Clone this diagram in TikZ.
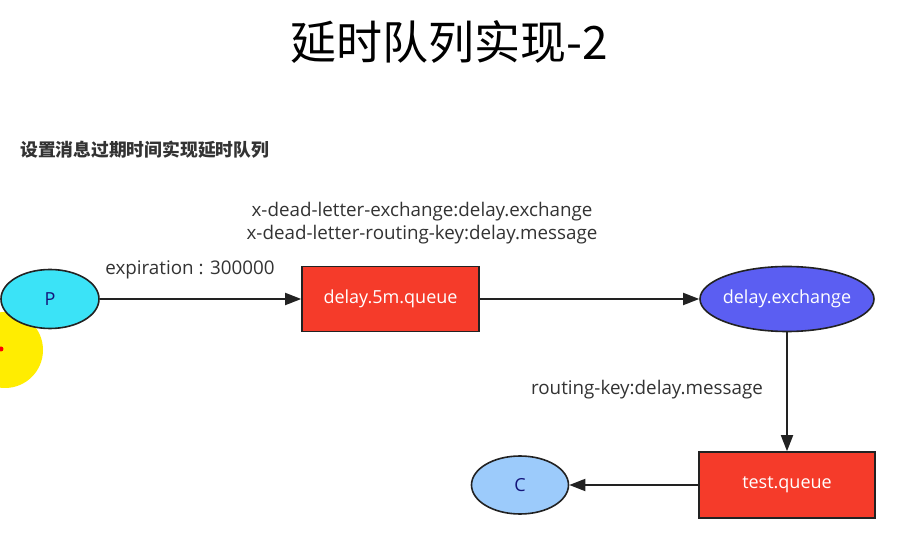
\documentclass[tikz,border=0pt]{standalone}
\usepackage{fontspec}
\setmainfont{Open Sans}
\newfontfamily\cjk{Noto Sans CJK SC}
\usetikzlibrary{arrows.meta,shapes.geometric}
\definecolor{qred}{HTML}{F53B2A}
\definecolor{pcyan}{HTML}{3BE3F7}
\definecolor{exblue}{HTML}{5B5EF2}
\definecolor{clblue}{HTML}{9CCBFB}
\definecolor{ink}{HTML}{222222}
\definecolor{txt}{HTML}{333333}
\tikzset{
  queuebox/.style={draw=ink, line width=1.6pt, fill=qred, text=white, minimum width=177pt, minimum height=65pt, inner sep=0pt, font=\fontsize{18}{22}\selectfont},
  ellnode/.style={ellipse, draw=ink, line width=1.6pt, inner sep=0pt, font=\fontsize{18}{22}\selectfont},
  flow/.style={draw=ink, line width=1.8pt, -{Triangle[length=16pt,width=12pt]}},
  lbl/.style={text=txt, font=\fontsize{18.8}{22}\selectfont, inner sep=0pt}
}
\begin{document}
\begin{tikzpicture}[x=1pt,y=-1pt]
\useasboundingbox[fill=white] (0,0) rectangle (914,534);
% title
\node[font=\cjk\fontsize{46}{52}\selectfont, text=black, inner sep=0pt] (title) at (449,42) {延时队列实现-2};
\node[font=\cjk\bfseries\fontsize{17.8}{22}\selectfont, text=txt, anchor=west, inner sep=0pt] (sub) at (20,150) {设置消息过期时间实现延时队列};
% cursor highlight
\fill[yellow!95!orange] (5,350) circle (38);
\fill[red] (1,349) circle (2.5);
% nodes
\node[ellnode, fill=pcyan, minimum width=98pt, minimum height=59pt, text=ink!60!blue] (P) at (50,299) {P};
\node[queuebox] (dq) at (390.5,299) {delay.5m.queue};
\node[ellnode, fill=exblue, text=white, inner xsep=-4pt, minimum width=174pt, minimum height=65pt] (ex) at (787,299) {delay.exchange};
\node[queuebox, minimum width=176pt, minimum height=66pt] (tq) at (787,485) {test.queue};
\node[ellnode, fill=clblue, minimum width=97pt, minimum height=58pt, text=ink!60!blue] (C) at (520,485) {C};
% labels
\node[lbl] (l1) at (190,270) {expiration : 300000};
\node[lbl] (l2) at (422,212) {x-dead-letter-exchange:delay.exchange};
\node[lbl] (l3) at (422,235) {x-dead-letter-routing-key:delay.message};
\node[lbl] (l4) at (647,390) {routing-key:delay.message};
% connectors
\draw[flow] (P.east) -- (dq.west);
\draw[flow] (dq.east) -- (ex.west);
\draw[flow] (ex.south) -- (tq.north);
\draw[flow] (tq.west) -- (C.east);
\end{tikzpicture}
\end{document}
